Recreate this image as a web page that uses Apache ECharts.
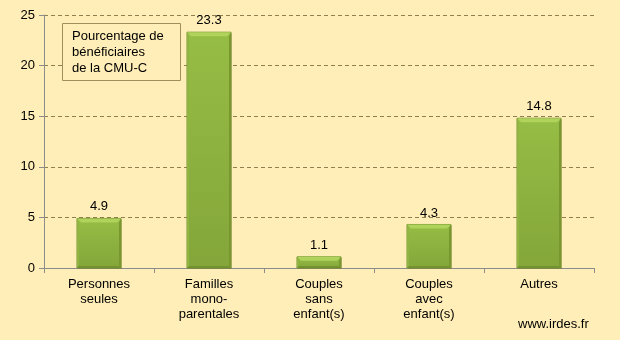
<!DOCTYPE html>
<html><head><meta charset="utf-8">
<script src="https://cdn.jsdelivr.net/npm/echarts@6/dist/echarts.min.js"></script>
<style>html,body{margin:0;padding:0;background:#FFEEB7;}#c{width:620px;height:340px;}</style>
</head><body><div id="c"></div>
<script>
const categories = ['Personnes\nseules', 'Familles\nmono-\nparentales', 'Couples\nsans\nenfant(s)', 'Couples\navec\nenfant(s)', 'Autres'];
const values = [4.9, 23.3, 1.1, 4.3, 14.8];
const legendText = 'Pourcentage de\nbénéficiaires\nde la CMU-C';
const sourceText = 'www.irdes.fr';

const chart = echarts.init(document.getElementById('c'), null, {renderer: 'canvas'});
const font = 'Liberation Sans, Arial, sans-serif';

function renderBar(params, api) {
  const i = api.value(0);
  const v = api.value(1);
  const base = api.coord([i, 0]);
  const top = api.coord([i, v]);
  const w = api.size([1, 0])[0] * 0.4;
  const x = base[0] - w / 2;
  const y = top[1];
  const h = base[1] - top[1];
  const b = Math.min(4, h / 2);
  const s = Math.min(2, h / 2);
  const children = [
    {type: 'rect', shape: {x: x + 1, y: y + 1, width: w, height: h}, style: {fill: 'rgba(120,100,40,0.3)'}},
    {type: 'rect', shape: {x: x, y: y, width: w, height: h},
      style: {fill: new echarts.graphic.LinearGradient(0, 0, 0, 1, [
        {offset: 0, color: '#96bd45'}, {offset: 1, color: '#84a63a'}]), stroke: '#73912f', lineWidth: 1}},
    {type: 'polygon', shape: {points: [[x, y], [x + w, y], [x + w - b, y + b], [x + b, y + b]]}, style: {fill: '#b0d35c'}},
    {type: 'polygon', shape: {points: [[x, y], [x + s, y + b], [x + s, y + h - s], [x, y + h]]}, style: {fill: '#8fb442'}},
    {type: 'polygon', shape: {points: [[x + w, y], [x + w - s, y + b], [x + w - s, y + h - s], [x + w, y + h]]}, style: {fill: '#78972f'}},
    {type: 'polygon', shape: {points: [[x, y + h], [x + s, y + h - s], [x + w - s, y + h - s], [x + w, y + h]]}, style: {fill: '#74922e'}},
    {type: 'text', x: base[0], y: y - 5, style: {text: v.toFixed(1), fill: '#000', font: '13px ' + font, align: 'center', verticalAlign: 'bottom'}}
  ];
  return {type: 'group', children: children};
}

chart.setOption({
  backgroundColor: '#FFEEB7',
  animation: false,
  grid: {left: 44, right: 26, top: 15, bottom: 72, containLabel: false},
  xAxis: {
    type: 'category', data: categories,
    axisLine: {lineStyle: {color: '#8c8c8c', width: 1}},
    axisTick: {show: true, length: 5, lineStyle: {color: '#8c8c8c'}},
    axisLabel: {color: '#000', fontFamily: font, fontSize: 13, lineHeight: 15, margin: 9}
  },
  yAxis: {
    type: 'value', min: 0, max: 25, interval: 5,
    axisLine: {show: true, lineStyle: {color: '#8c8c8c'}},
    axisTick: {show: true, length: 5, lineStyle: {color: '#8c8c8c'}},
    axisLabel: {color: '#000', fontFamily: font, fontSize: 13, margin: 9},
    splitLine: {lineStyle: {color: '#8f7f4f', type: [4, 3], width: 1}}
  },
  series: [{
    type: 'custom',
    data: values.map((v, i) => [i, v]),
    renderItem: renderBar,
    encode: {x: 0, y: 1}
  }],
  graphic: [
    {type: 'rect', z: 100, left: 62, top: 23, shape: {width: 118, height: 57}, style: {fill: '#FFEEB7', stroke: '#a08f5c', lineWidth: 1}},
    {type: 'text', z: 101, left: 72, top: 28, style: {text: legendText, fill: '#000', font: '13px ' + font, lineHeight: 16}},
    {type: 'text', z: 101, left: 518, top: 318, style: {text: sourceText, fill: '#000', font: '13px ' + font}}
  ]
});
</script></body></html>
